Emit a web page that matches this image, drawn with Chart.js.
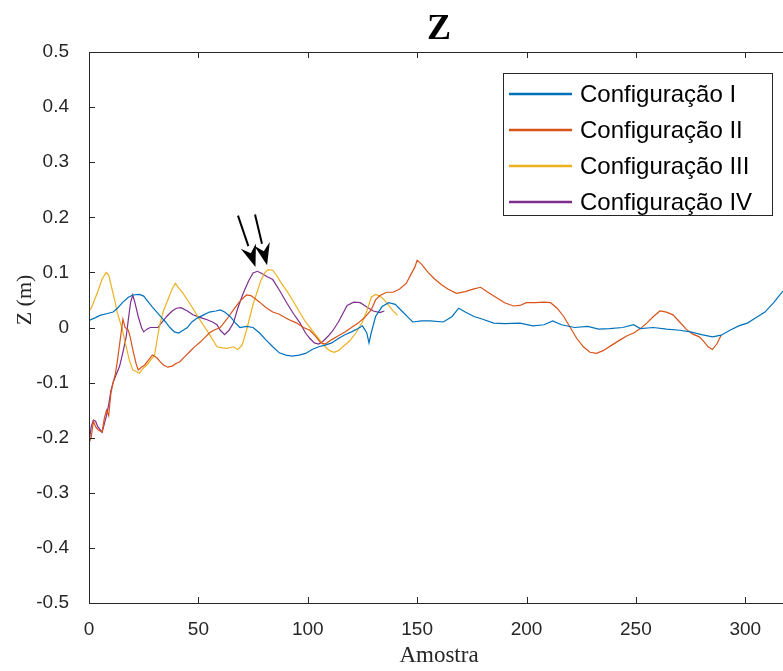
<!DOCTYPE html>
<html>
<head>
<meta charset="utf-8">
<title>Z</title>
<script src="https://cdn.jsdelivr.net/npm/chart.js@4.4.1/dist/chart.umd.min.js"></script>
<style>
  html, body { margin: 0; padding: 0; background: #fff; overflow: hidden; }
  #wrap { width: 783px; height: 671px; overflow: hidden; }
</style>
</head>
<body>
<div id="wrap"><canvas id="chartZ" width="795" height="671"></canvas></div>
<script>
// DATA
const seriesNames = ["Configuração I", "Configuração II", "Configuração III", "Configuração IV"];
const seriesColors = ["#0072BD", "#D95319", "#EDB120", "#7E2F8E"];

const xTicks = [0, 50, 100, 150, 200, 250, 300];
const yTicks = [-0.5, -0.4, -0.3, -0.2, -0.1, 0, 0.1, 0.2, 0.3, 0.4, 0.5];
const yTickLabels = ["-0.5", "-0.4", "-0.3", "-0.2", "-0.1", "0", "0.1", "0.2", "0.3", "0.4", "0.5"];

const config1X = [0, 3, 5, 8, 11, 13, 15.5, 18, 20, 23, 25, 27, 29, 31, 33, 35, 37, 39, 41, 43, 45, 47, 49.5, 52, 55, 58, 60, 62, 64.5, 67, 69, 72, 75, 78, 81, 84, 87, 90, 93, 96, 99, 102, 105, 108, 111, 114, 117, 120, 123, 125, 127, 128, 129, 131, 134, 137, 140, 143, 146, 148, 152, 156, 162, 166, 169, 172, 176, 180, 185, 190, 197, 203, 208, 212, 216, 222, 228, 233, 238, 244, 249, 252, 258, 264, 270, 275, 280, 285, 289, 293, 297, 301, 305, 309, 313, 317, 320];
const config1Y = [0.013, 0.018, 0.022, 0.025, 0.028, 0.035, 0.046, 0.055, 0.059, 0.06, 0.057, 0.047, 0.037, 0.028, 0.019, 0.01, 0.0, -0.008, -0.01, -0.005, 0.0, 0.01, 0.017, 0.022, 0.028, 0.03, 0.032, 0.028, 0.02, 0.008, 0.0, 0.002, 0.0, -0.01, -0.023, -0.035, -0.046, -0.05, -0.052, -0.05, -0.047, -0.04, -0.035, -0.032, -0.028, -0.02, -0.013, -0.008, -0.002, 0.003, -0.01, -0.028, -0.01, 0.02, 0.038, 0.045, 0.042, 0.03, 0.018, 0.01, 0.012, 0.012, 0.01, 0.02, 0.035, 0.028, 0.02, 0.015, 0.008, 0.007, 0.008, 0.003, 0.005, 0.012, 0.005, 0.0, 0.002, -0.003, -0.002, 0.0, 0.005, -0.002, 0.0, -0.003, -0.005, -0.008, -0.013, -0.017, -0.014, -0.005, 0.003, 0.008, 0.018, 0.028, 0.045, 0.065, 0.072];

const config2X = [0, 1, 2, 3, 4, 6, 7, 8, 9, 10, 11, 12, 13, 14, 15, 15.5, 16.5, 18, 19, 20, 21.5, 22.5, 24, 25.5, 27, 29, 31, 32.5, 34, 36, 38, 40, 41.5, 44, 46, 48, 51, 53, 55, 57, 60, 63, 66, 69, 72, 74, 76, 78, 81, 84, 87, 91, 95, 98, 101, 104, 106, 108, 111, 114, 117, 120, 123, 126, 129, 131, 133, 136, 139, 142, 145, 147, 149, 150, 152, 155, 158, 161, 164, 168, 172, 176, 179, 182, 186, 190, 194, 197, 200, 204, 208, 211, 214, 217, 220, 223, 226, 229, 232, 235, 239, 243, 246, 249, 252, 255, 258, 261, 264, 267, 270, 273, 276, 279, 281, 283, 285, 287, 289];
const config2Y = [-0.21, -0.2, -0.17, -0.18, -0.185, -0.19, -0.165, -0.15, -0.16, -0.12, -0.1, -0.085, -0.06, -0.03, 0.0, 0.015, 0.0, -0.005, -0.02, -0.04, -0.065, -0.077, -0.072, -0.068, -0.06, -0.05, -0.055, -0.062, -0.068, -0.072, -0.07, -0.065, -0.062, -0.052, -0.044, -0.036, -0.026, -0.018, -0.01, -0.005, 0.0, 0.015, 0.032, 0.048, 0.059, 0.058, 0.052, 0.046, 0.036, 0.028, 0.024, 0.015, 0.008, 0.0, -0.005, -0.018, -0.028, -0.03, -0.022, -0.015, -0.008, 0.0, 0.008, 0.018, 0.032, 0.05, 0.058, 0.064, 0.064, 0.07, 0.08, 0.095, 0.11, 0.122, 0.115, 0.1, 0.088, 0.078, 0.07, 0.062, 0.065, 0.07, 0.073, 0.065, 0.055, 0.045, 0.039, 0.04, 0.045, 0.045, 0.046, 0.045, 0.035, 0.02, 0.0, -0.02, -0.035, -0.045, -0.047, -0.042, -0.032, -0.022, -0.015, -0.01, -0.002, 0.008, 0.02, 0.03, 0.028, 0.023, 0.01, -0.003, -0.012, -0.017, -0.025, -0.035, -0.04, -0.03, -0.014];

const config3X = [0, 1, 2, 4, 6, 7.8, 9, 10.5, 12, 13, 15, 17, 18.5, 20, 21.5, 23, 24.5, 26.5, 28, 30, 31, 32.5, 34, 36, 38, 39.5, 41, 43, 46, 49, 51, 53, 55, 57, 58.5, 61, 63, 66, 68, 70, 72, 73.6, 75, 76.8, 78.5, 80.5, 82, 84, 86, 88, 90.5, 93, 96, 99, 102, 105, 108, 110, 112, 114, 116, 119, 122, 125, 127, 129, 131, 133, 135, 137, 139, 141];
const config3Y = [0.03, 0.035, 0.045, 0.065, 0.088, 0.1, 0.095, 0.07, 0.045, 0.026, 0.0, -0.035, -0.06, -0.077, -0.08, -0.083, -0.075, -0.068, -0.06, -0.05, -0.025, 0.008, 0.03, 0.05, 0.07, 0.08, 0.072, 0.062, 0.044, 0.025, 0.012, 0.0, -0.012, -0.025, -0.035, -0.037, -0.038, -0.035, -0.04, -0.032, -0.005, 0.02, 0.042, 0.064, 0.085, 0.1, 0.105, 0.104, 0.093, 0.08, 0.066, 0.05, 0.03, 0.01, -0.005, -0.02, -0.035, -0.042, -0.045, -0.042, -0.035, -0.025, -0.01, 0.01, 0.03, 0.055, 0.06, 0.057, 0.05, 0.04, 0.03, 0.022];

const config4X = [0, 1, 2, 3, 4, 6, 7, 8, 9, 10, 11, 12.5, 14, 15.5, 17, 18, 19, 20, 21, 22.5, 24, 25, 26.5, 28, 31.5, 33.5, 35.5, 38, 40, 42, 45, 47.5, 51, 54, 56.5, 58.5, 60, 62, 64, 66, 68, 70.5, 73, 75, 77, 79, 81.5, 84, 87, 90.5, 93.5, 96.5, 99, 101, 103, 105, 107, 109.5, 111.6, 114, 116, 118, 121, 124, 127, 130, 133, 135];
const config4Y = [-0.21, -0.18, -0.168, -0.17, -0.18, -0.19, -0.175, -0.16, -0.14, -0.115, -0.1, -0.085, -0.07, -0.045, -0.017, 0.015, 0.045, 0.059, 0.045, 0.02, 0.0, -0.008, -0.003, 0.0, 0.0, 0.01, 0.02, 0.03, 0.035, 0.036, 0.03, 0.023, 0.018, 0.014, 0.01, 0.005, -0.005, -0.013, -0.005, 0.008, 0.035, 0.062, 0.085, 0.099, 0.102, 0.098, 0.092, 0.087, 0.068, 0.044, 0.025, 0.008, -0.01, -0.02, -0.028, -0.03, -0.025, -0.015, -0.005, 0.01, 0.025, 0.04, 0.046, 0.045, 0.037, 0.03, 0.027, 0.03];

// arrows (data coords): start -> tip
const arrowStartX = [68.1, 75.9];
const arrowStartY = [0.203, 0.205];
const arrowTipX = [76.1, 81.4];
const arrowTipY = [0.110, 0.113];

const seriesX = [config1X, config2X, config3X, config4X];
const seriesY = [config1Y, config2Y, config3Y, config4Y];

const AXIS_COLOR = "#262626";
const SANS = '"Liberation Sans", Arial, sans-serif';
const SERIF = '"Liberation Serif", "Times New Roman", serif';

// draws the matlab-like box, inner ticks, legend, arrows and labels
const matlabAxes = {
  id: "matlabAxes",
  afterDatasetsDraw(chart) {
    const ctx = chart.ctx;
    const a = chart.chartArea;
    const xs = chart.scales.x, ys = chart.scales.y;
    ctx.save();

    // box
    ctx.strokeStyle = AXIS_COLOR;
    ctx.lineWidth = 1;
    ctx.strokeRect(Math.round(a.left) + 0.5, Math.round(a.top) + 0.5, a.right - a.left, a.bottom - a.top);

    // inner ticks
    ctx.beginPath();
    xTicks.forEach(v => {
      const px = Math.round(xs.getPixelForValue(v)) + 0.5;
      ctx.moveTo(px, a.bottom); ctx.lineTo(px, a.bottom - 6);
      ctx.moveTo(px, a.top); ctx.lineTo(px, a.top + 6);
    });
    yTicks.forEach(v => {
      const py = Math.round(ys.getPixelForValue(v)) + 0.5;
      ctx.moveTo(a.left, py); ctx.lineTo(a.left + 6, py);
      ctx.moveTo(a.right, py); ctx.lineTo(a.right - 6, py);
    });
    ctx.stroke();

    // arrows
    ctx.fillStyle = "#000";
    ctx.strokeStyle = "#000";
    for (let i = 0; i < arrowStartX.length; i++) {
      const x0 = xs.getPixelForValue(arrowStartX[i]), y0 = ys.getPixelForValue(arrowStartY[i]);
      const x1 = xs.getPixelForValue(arrowTipX[i]), y1 = ys.getPixelForValue(arrowTipY[i]);
      const ang = Math.atan2(y1 - y0, x1 - x0);
      const len = 22, half = 8;
      const bx = x1 - len * Math.cos(ang), by = y1 - len * Math.sin(ang);
      ctx.lineWidth = 2;
      ctx.beginPath(); ctx.moveTo(x0, y0); ctx.lineTo(bx, by); ctx.stroke();
      ctx.beginPath();
      ctx.moveTo(x1, y1);
      ctx.lineTo(bx + half * Math.sin(ang), by - half * Math.cos(ang));
      ctx.lineTo(x1 - 0.65 * len * Math.cos(ang), y1 - 0.65 * len * Math.sin(ang));
      ctx.lineTo(bx - half * Math.sin(ang), by + half * Math.cos(ang));
      ctx.closePath(); ctx.fill();
    }

    // legend
    const lx = 503.5, ly = 73.5, lw = 269, lh = 142;
    ctx.fillStyle = "#fff";
    ctx.fillRect(lx, ly, lw, lh);
    ctx.lineWidth = 1;
    ctx.strokeStyle = AXIS_COLOR;
    ctx.strokeRect(lx, ly, lw, lh);
    ctx.font = "24px " + SANS;
    ctx.textBaseline = "middle";
    ctx.textAlign = "left";
    chart.data.datasets.forEach((ds, i) => {
      const ry = 94 + i * 36;
      ctx.strokeStyle = ds.borderColor;
      ctx.lineWidth = 2.5;
      ctx.beginPath(); ctx.moveTo(509, ry); ctx.lineTo(572, ry); ctx.stroke();
      ctx.fillStyle = "#000";
      ctx.fillText(ds.label, 580, ry + 1);
    });

    // title
    ctx.fillStyle = "#000";
    ctx.font = "bold 36px " + SERIF;
    ctx.textAlign = "center";
    ctx.fillText("Z", (a.left + a.right) / 2, 30);

    // y label
    ctx.font = "22px " + SERIF;
    ctx.fillStyle = AXIS_COLOR;
    ctx.translate(25, 300);
    ctx.rotate(-Math.PI / 2);
    ctx.fillText("Z (m)", 0, 0);

    ctx.restore();
  }
};

new Chart(document.getElementById("chartZ"), {
  type: "line",
  data: {
    datasets: seriesNames.map((name, i) => ({
      label: name,
      data: seriesX[i].map((x, j) => ({ x: x, y: seriesY[i][j] })),
      borderColor: seriesColors[i],
      backgroundColor: seriesColors[i],
      borderWidth: 1.2,
      pointRadius: 0,
      tension: 0,
      fill: false
    }))
  },
  options: {
    responsive: false,
    animation: false,
    layout: { padding: { top: 52, right: 6, left: 0, bottom: 0 } },
    plugins: {
      legend: { display: false },
      tooltip: { enabled: false },
      title: { display: false }
    },
    scales: {
      x: {
        type: "linear",
        min: 0,
        max: 320,
        grid: { display: false },
        border: { display: false },
        afterBuildTicks: scale => { scale.ticks = xTicks.map(v => ({ value: v })); },
        afterFit: scale => { scale.height = 68; },
        ticks: {
          autoSkip: false,
          maxRotation: 0,
          padding: 7,
          color: AXIS_COLOR,
          font: { family: SANS, size: 19 },
          callback: v => String(v)
        },
        title: {
          display: true,
          text: "Amostra",
          color: AXIS_COLOR,
          font: { family: SERIF, size: 23 },
          padding: { top: 0, bottom: 1 }
        }
      },
      y: {
        min: -0.5,
        max: 0.5,
        grid: { display: false },
        border: { display: false },
        afterBuildTicks: scale => { scale.ticks = yTicks.map(v => ({ value: v })); },
        afterFit: scale => { scale.width = 89; },
        ticks: {
          autoSkip: false,
          padding: 12,
          color: AXIS_COLOR,
          font: { family: SANS, size: 19 },
          callback: (v, i) => yTickLabels[i]
        }
      }
    }
  },
  plugins: [matlabAxes]
});
</script>
</body>
</html>
